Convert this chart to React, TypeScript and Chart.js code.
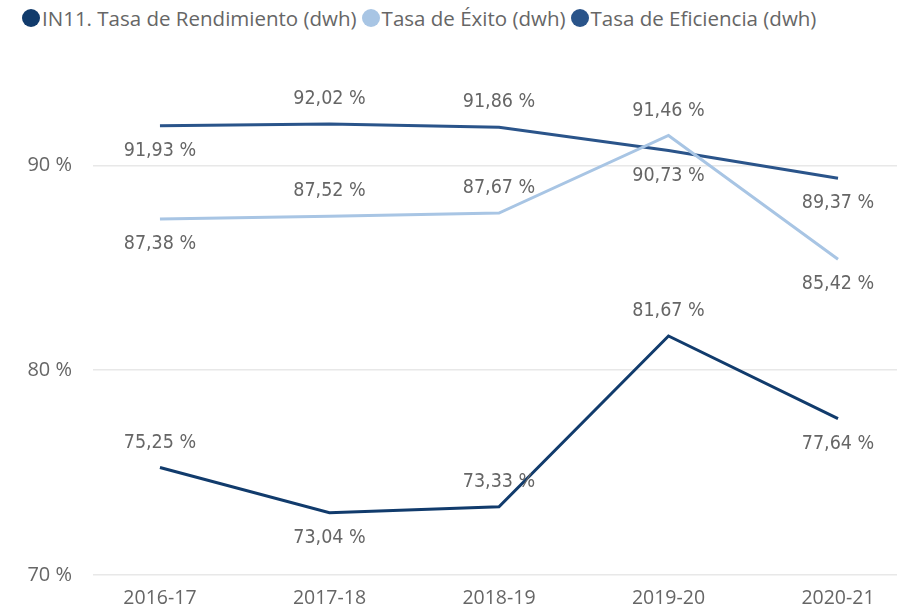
import React, { useEffect, useRef } from "react";
import { Chart, registerables } from "chart.js";

Chart.register(...registerables);

const categories = ["2016-17", "2017-18", "2018-19", "2019-20", "2020-21"];
const rendimiento = [75.25, 73.04, 73.33, 81.67, 77.64];
const exito = [87.38, 87.52, 87.67, 91.46, 85.42];
const eficiencia = [91.93, 92.02, 91.86, 90.73, 89.37];
const yTicks = [70, 80, 90];

const seriesNames = [
  "IN11. Tasa de Rendimiento (dwh)",
  "Tasa de Éxito (dwh)",
  "Tasa de Eficiencia (dwh)",
];
const seriesColors = ["#113b6c", "#a8c5e4", "#2a548a"];
// label placement: 1 = above the point, -1 = below
const labelSide = [
  [1, -1, 1, 1, -1],
  [-1, 1, 1, 1, -1],
  [-1, 1, 1, -1, -1],
];

const fmt = (v: number) => v.toFixed(2).replace(".", ",") + " %";

const labelPlugin = {
  id: "pointLabels",
  afterDatasetsDraw(chart: any) {
    const ctx = chart.ctx;
    ctx.save();
    ctx.font = "19.5px 'DejaVu Sans Condensed', 'DejaVu Sans'";
    ctx.fillStyle = "#666666";
    ctx.textAlign = "center";
    ctx.textBaseline = "middle";
    chart.data.datasets.forEach((ds: any, di: number) => {
      const meta = chart.getDatasetMeta(di);
      meta.data.forEach((pt: any, i: number) => {
        const side = labelSide[di][i];
        ctx.fillText(fmt(ds.data[i].y), pt.x, pt.y - side * 25);
      });
    });
    ctx.restore();
  },
};

export default function App() {
  const ref = useRef<HTMLCanvasElement | null>(null);
  useEffect(() => {
    if (!ref.current) return;
    const all = [rendimiento, exito, eficiencia];
    const chart = new Chart(ref.current, {
      type: "line",
      data: {
        datasets: all.map((vals, di) => ({
          label: seriesNames[di],
          data: vals.map((v, i) => ({ x: i, y: v })),
          borderColor: seriesColors[di],
          backgroundColor: seriesColors[di],
          borderWidth: 3,
          pointRadius: 0,
          tension: 0,
        })),
      },
      options: {
        animation: false,
        responsive: false,
        layout: { padding: { top: 63, left: 0, right: 0, bottom: 0 } },
        plugins: { legend: { display: false }, tooltip: { enabled: false } },
        scales: {
          x: {
            type: "linear",
            min: -0.395,
            max: 4.348,
            afterBuildTicks: (s: any) => {
              s.ticks = categories.map((_, i) => ({ value: i }));
            },
            afterFit: (s: any) => {
              s.height = 31;
            },
            grid: { display: false, drawTicks: false },
            border: { display: false },
            ticks: {
              padding: 12,
              autoSkip: false,
              maxRotation: 0,
              color: "#666666",
              font: { family: "'Open Sans'", size: 19.5 },
              callback: (v: any) => categories[v] ?? "",
            },
          },
          y: {
            min: 70,
            max: 95,
            afterBuildTicks: (s: any) => {
              s.ticks = yTicks.map((v) => ({ value: v }));
            },
            afterFit: (s: any) => {
              s.width = 93;
            },
            grid: { color: "#e8e8e8", lineWidth: 1.5, drawTicks: false },
            border: { display: false },
            ticks: {
              padding: 21,
              color: "#666666",
              font: { family: "'Open Sans'", size: 20 },
              callback: (v: any) => v + " %",
            },
          },
        },
      },
      plugins: [labelPlugin],
    });
    return () => chart.destroy();
  }, []);

  return (
    <div style={{ position: "fixed", left: 0, top: 0, width: 897, height: 608, background: "#fff" }}>
      <div
        style={{
          position: "absolute",
          left: 22,
          top: 4,
          height: 28,
          display: "flex",
          alignItems: "center",
          fontFamily: "'Open Sans', sans-serif",
          fontSize: 20.5,
          color: "#666666",
          whiteSpace: "nowrap",
        }}
      >
        {seriesNames.map((n, i) => (
          <div key={n} style={{ display: "flex", alignItems: "center", marginRight: 5 }}>
            <span
              style={{
                display: "inline-block",
                width: 18,
                height: 18,
                borderRadius: "50%",
                background: seriesColors[i],
                marginRight: 2,
              }}
            />
            <span>{n}</span>
          </div>
        ))}
      </div>
      <canvas ref={ref} width={897} height={608} style={{ position: "absolute", left: 0, top: 0 }} />
    </div>
  );
}
